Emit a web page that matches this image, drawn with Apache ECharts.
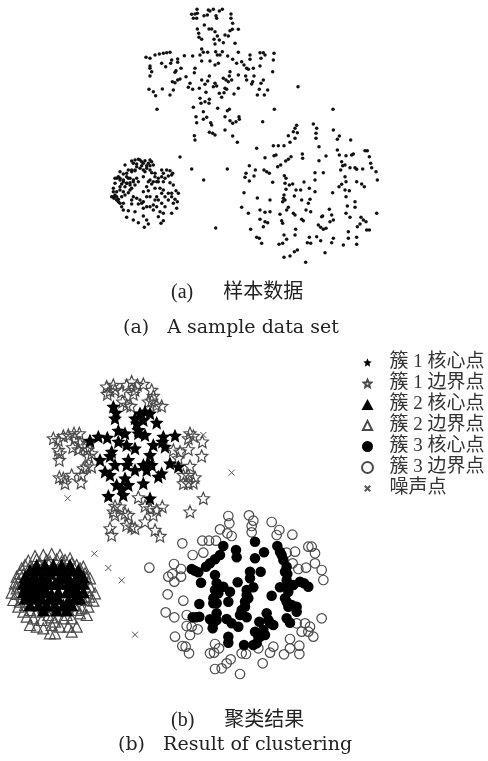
<!DOCTYPE html>
<html lang="en">
<head>
    <meta charset="UTF-8">
    <title>clustering</title>
    <style>
        html, body { margin: 0; padding: 0; background: #fff; }
        #main { width: 488px; height: 761px; filter: blur(0.6px); }
    </style>
</head>
<body>
<div id="main"></div>
<script src="https://cdn.jsdelivr.net/npm/echarts@6/dist/echarts.min.js"></script>
<script>
// (a) sample data
const sampleCross = [[291,28],[325,30],[340,28],[358,33],[367,28],[275,43],[285,42],[292,40],[290,55],[280,55],[312,47],[322,45],[330,33],[348,47],[350,55],[393,42],[393,55],[398,70],[313,75],[327,87],[335,87],[292,87],[296,100],[297,112],[305,118],[345,95],[352,108],[342,118],[345,132],[358,120],[375,105],[385,108],[390,92],[397,88],[415,88],[405,130],[370,128],[305,147],[310,157],[300,165],[323,157],[347,155],[352,165],[360,165],[367,155],[383,168],[415,157],[398,178],[450,165],[450,178],[480,158],[490,158],[495,165],[522,160],[483,175],[520,180],[138,172],[150,175],[165,165],[178,162],[190,160],[200,158],[210,157],[253,167],[278,168],[233,177],[233,187],[215,180],[212,190],[185,190],[197,200],[150,198],[150,205],[155,215],[150,228],[243,205],[228,212],[225,217],[305,183],[330,183],[345,195],[355,190],[285,205],[283,218],[258,230],[240,237],[233,240],[225,248],[217,245],[270,250],[265,262],[278,268],[298,265],[305,240],[328,228],[323,243],[315,253],[345,250],[350,258],[340,260],[390,215],[370,235],[378,240],[385,245],[395,240],[388,228],[410,190],[425,185],[432,195],[440,205],[445,208],[460,205],[480,198],[518,215],[415,225],[437,228],[440,240],[462,228],[458,245],[455,252],[490,240],[483,250],[375,265],[380,268],[372,278],[365,292],[358,280],[415,265],[402,282],[318,277],[147,268],[160,275],[167,287],[187,267],[210,285],[220,270],[478,268],[503,270],[472,285],[493,285],[300,295],[303,310],[315,305],[328,298],[327,310],[280,322],[310,335],[288,350],[320,352],[310,358],[290,368],[353,325],[388,328],[382,332],[375,350],[417,350],[418,358],[390,362],[398,370],[408,365],[332,368],[335,375],[375,390],[328,397],[338,400],[345,405],[283,407],[285,420],[398,408],[412,427]];
const sampleNoise = [[171,328],[523,328],[594,260],[699,328],[488,365],[240,471],[275,507],[382,507],[311,540],[347,684],[470,445]];
const sampleBlob = [[95,483],[105,480],[115,478],[125,485],[135,482],[145,490],[155,485],[160,495],[100,490],[110,492],[125,497],[140,497],[150,497],[75,495],[95,510],[105,510],[120,505],[135,515],[155,518],[165,520],[185,510],[200,510],[210,512],[218,520],[190,520],[205,528],[60,515],[70,522],[80,530],[50,535],[60,535],[70,540],[90,535],[100,540],[90,548],[80,550],[65,552],[45,550],[150,540],[160,545],[175,535],[155,552],[190,545],[210,548],[220,555],[130,530],[115,545],[105,555],[95,565],[40,565],[40,575],[35,590],[42,595],[50,600],[55,605],[70,575],[85,578],[100,590],[120,600],[130,605],[145,572],[130,575],[165,565],[180,565],[185,580],[170,590],[150,590],[140,590],[205,580],[228,572],[235,580],[215,590],[225,598],[232,605],[195,590],[185,610],[160,615],[150,620],[130,625],[115,612],[95,612],[65,620],[70,630],[85,632],[105,635],[160,630],[180,635],[195,620],[230,625],[215,640],[190,640],[175,650],[80,652],[100,660],[115,668],[130,648],[140,660],[145,672],[133,682],[183,670],[190,662],[45,535],[55,530],[60,540],[70,545],[80,550],[90,555],[100,545],[85,535],[110,535],[95,515],[85,510],[105,512],[80,520],[130,510],[140,505],[150,510],[165,530],[175,545],[145,545],[140,560],[170,545],[185,530],[215,525],[195,535],[40,590],[45,585],[50,590],[55,598],[65,590],[75,585],[60,610],[70,610],[95,600],[110,595],[125,610],[140,620],[170,620],[175,600],[205,600],[220,610],[215,580],[190,570],[165,600],[60,570],[50,575],[75,560],[90,570],[60,560],[120,480],[130,490],[110,500],[150,480]];
const sampleScatter = [[590,376],[585,385],[580,395],[592,398],[565,407],[585,415],[570,427],[552,437],[535,437],[520,437],[640,372],[650,385],[648,400],[648,415],[657,440],[700,390],[718,408],[712,418],[752,420],[795,452],[802,452],[712,450],[718,465],[738,467],[755,465],[760,462],[808,470],[522,467],[528,465],[495,473],[573,470],[565,478],[557,483],[607,462],[608,475],[657,482],[678,468],[542,495],[533,500],[448,497],[466,510],[492,510],[500,515],[508,520],[438,520],[435,532],[462,528],[448,543],[553,527],[558,535],[645,518],[670,518],[725,485],[728,497],[735,495],[722,510],[750,503],[765,503],[770,508],[788,507],[812,490],[815,503],[828,515],[832,540],[645,540],[612,546],[518,547],[555,550],[558,568],[578,552],[568,555],[588,570],[602,570],[628,565],[645,575],[735,530],[738,545],[725,553],[717,560],[770,545],[785,552],[793,560],[735,570],[748,572],[698,578],[432,578],[472,594],[510,600],[552,585],[550,595],[555,600],[548,605],[583,588],[605,600],[630,598],[625,610],[738,590],[765,605],[742,618],[765,622],[425,622],[445,640],[480,630],[495,637],[510,635],[560,630],[565,622],[540,643],[580,640],[585,645],[618,630],[632,635],[688,628],[695,645],[738,640],[750,652],[665,650],[668,648],[690,665],[700,660],[783,652],[790,660],[798,665],[780,672],[772,680],[830,640],[480,658],[495,665],[503,668],[545,662],[548,670],[490,680],[452,688],[605,658],[610,662],[655,675],[662,682],[670,688],[678,685],[587,688],[800,690],[808,690],[745,695],[470,712],[478,715],[485,730],[552,705],[560,718],[537,733],[548,730],[585,705],[628,712],[622,728],[632,730],[650,710],[662,722],[700,715],[695,728],[745,715],[770,712],[730,735],[770,733],[592,750],[583,755],[570,768],[552,772],[675,758],[617,787]];

// (b) clustering result
const cluster1Core = [[340,110],[348,128],[345,145],[405,145],[420,130],[435,125],[450,130],[410,160],[415,180],[430,150],[470,158],[355,182],[375,190],[415,190],[435,195],[270,212],[295,200],[322,203],[355,215],[380,225],[405,235],[490,200],[487,215],[495,230],[525,197],[460,225],[335,245],[300,270],[330,258],[450,255],[385,270],[345,285],[380,285],[315,305],[330,315],[405,300],[375,325],[430,285],[445,280],[440,300],[430,340],[475,320],[485,310],[510,280],[535,290],[350,345],[365,355],[385,345],[370,375],[325,378],[450,385],[455,285]];
const cluster1Border = [[320,50],[340,45],[330,62],[322,72],[345,60],[365,65],[380,45],[395,35],[412,45],[430,42],[405,60],[400,72],[455,60],[460,78],[455,92],[485,108],[470,105],[445,95],[380,105],[392,108],[368,95],[160,205],[175,210],[190,198],[205,195],[222,190],[238,190],[225,205],[240,220],[218,232],[235,238],[250,230],[262,240],[270,215],[175,240],[180,250],[178,270],[265,258],[275,250],[178,322],[190,325],[195,340],[215,315],[245,315],[243,338],[260,290],[250,295],[275,290],[570,190],[565,205],[580,198],[607,215],[605,258],[520,240],[540,245],[535,265],[565,238],[570,288],[565,315],[585,322],[550,340],[565,340],[580,338],[550,315],[415,382],[345,408],[360,410],[340,425],[345,435],[375,430],[385,435],[435,408],[450,415],[470,420],[487,410],[460,435],[435,455],[380,465],[395,470],[405,475],[330,475],[335,495],[465,480],[480,498],[610,385],[570,425]];
const cluster2Core = [[110,585],[135,585],[160,585],[185,585],[210,585],[90,600],[115,600],[140,600],[165,600],[190,600],[215,600],[235,600],[75,620],[100,620],[125,620],[180,620],[205,620],[230,620],[250,620],[70,640],[95,640],[120,640],[180,640],[235,640],[250,640],[70,665],[95,665],[120,665],[175,665],[230,665],[250,665],[75,685],[100,685],[125,685],[150,685],[225,685],[240,685],[90,705],[115,705],[140,705],[165,705],[190,705],[215,705],[130,720],[170,720],[200,720],[150,610],[145,635],[165,640],[130,650],[150,640],[205,640],[200,665],[215,660],[155,672],[175,685],[205,690],[85,650],[110,650],[85,630],[110,630],[85,675],[110,675],[225,630],[225,650],[195,625],[140,665]];
const cluster2Border = [[105,558],[130,555],[155,552],[180,555],[85,572],[110,568],[140,570],[170,568],[195,570],[65,595],[90,590],[230,585],[250,590],[215,580],[50,620],[70,612],[255,610],[270,625],[240,605],[45,640],[60,650],[35,668],[50,672],[270,650],[285,670],[40,690],[60,695],[75,705],[280,692],[260,690],[245,680],[265,710],[245,715],[70,725],[90,720],[110,725],[130,712],[155,720],[175,710],[205,720],[225,705],[240,730],[80,740],[100,745],[125,750],[155,742],[165,755],[190,745],[215,745],[260,735],[90,765],[110,770],[130,775],[155,765],[180,770],[205,770],[230,770],[150,790],[165,790],[215,785],[75,585],[60,610],[55,635],[50,655],[260,625],[262,660],[268,680],[55,710],[120,580],[150,575],[185,575],[210,565],[240,595],[145,735],[200,735],[230,720]];
const cluster3Core = [[670,528],[708,540],[710,562],[765,515],[792,547],[765,565],[832,528],[840,545],[850,570],[860,590],[660,555],[645,568],[630,580],[618,590],[575,597],[595,607],[603,638],[645,615],[650,640],[670,650],[645,660],[640,685],[650,700],[690,665],[685,695],[713,637],[740,660],[760,652],[745,685],[735,710],[720,735],[740,742],[750,605],[782,605],[750,625],[598,702],[578,742],[598,740],[630,748],[638,775],[650,730],[680,747],[695,760],[715,770],[685,800],[685,818],[732,825],[760,825],[765,785],[780,800],[795,795],[778,755],[800,730],[805,750],[820,765],[860,745],[870,758],[815,677],[840,652],[860,630],[860,650],[855,685],[865,710],[890,710],[890,725],[900,635],[925,650],[912,640],[880,645],[845,555],[855,605],[862,612],[865,665],[860,695],[875,705],[585,602],[655,670],[660,650],[640,700],[740,675],[735,695],[725,720],[775,800],[770,820],[790,780],[810,760],[650,750],[640,760],[588,742]];
const cluster3Border = [[448,593],[547,520],[578,555],[610,548],[607,512],[627,512],[648,512],[660,478],[685,438],[688,460],[682,490],[695,498],[747,436],[760,452],[755,468],[755,487],[815,456],[838,480],[830,495],[877,494],[522,582],[543,597],[517,612],[505,620],[523,635],[543,620],[503,673],[550,692],[497,727],[523,742],[560,735],[560,768],[575,770],[593,778],[525,800],[570,795],[547,828],[557,830],[567,850],[645,822],[657,835],[630,850],[642,848],[645,897],[665,895],[680,880],[692,868],[720,912],[788,880],[725,850],[738,852],[775,835],[810,848],[820,830],[852,853],[870,807],[870,835],[898,852],[898,827],[905,785],[915,760],[930,770],[925,785],[940,800],[965,745],[860,548],[885,545],[878,580],[895,597],[918,593],[925,530],[935,530],[945,550],[945,580],[965,600],[970,630],[890,760]];
const noisePoints = [[610,195],[695,308],[203,385],[283,551],[325,594],[365,631],[405,794]];

const legendNames = ['簇 1 核心点', '簇 1 边界点', '簇 2 核心点', '簇 2 边界点', '簇 3 核心点', '簇 3 边界点', '噪声点'];

const STAR = 'path://M10,0L12.9,6.9L20,7.6L14.6,12.4L16.2,20L10,16L3.8,20L5.4,12.4L0,7.6L7.1,6.9Z';
const CROSS = 'path://M0,0L10,10M10,0L0,10';
const HOLLOW_TRI = 'path://M5,0L10,10L0,10ZM-1,-1L-1,-1M11,11L11,11';
const SERIF = '"Liberation Serif","Noto Sans CJK SC",serif';
const LATIN = '"DejaVu Serif",serif';

function solid(name, data, symbol, size) {
    return {
        name, data, symbol, symbolSize: size, type: 'scatter', xAxisIndex: 1, yAxisIndex: 1, silent: true,
        itemStyle: { color: '#000', opacity: 1 }
    };
}
function hollow(name, data, symbol, size) {
    return {
        name, data, symbol, symbolSize: size, type: 'scatter', xAxisIndex: 1, yAxisIndex: 1, silent: true,
        itemStyle: { color: 'rgba(0,0,0,0)', borderColor: '#4a4a4a', borderWidth: 1.2, opacity: 1 }
    };
}
function caption(text, left, top, size, family) {
    return { text, left, top, padding: 0, textStyle: { fontFamily: family, fontSize: size, fontWeight: 'normal', color: '#222' } };
}

const myChart = echarts.init(document.getElementById('main'));
myChart.setOption({
    animation: false,
    backgroundColor: '#fff',
    title: [
        caption('(a)      样本数据', 171, 283, 20, SERIF),
        caption('(a)   A sample data set', 123, 319, 19, LATIN),
        caption('(b)      聚类结果', 171, 711, 20, SERIF),
        caption('(b)   Result of clustering', 118, 736, 19, LATIN)
    ],
    grid: [
        { left: 100, top: 0, width: 290, height: 270 },
        { left: 0, top: 370, width: 340, height: 330 }
    ],
    xAxis: [
        { type: 'value', min: 0, max: 870, show: false, gridIndex: 0 },
        { type: 'value', min: 0, max: 1020, show: false, gridIndex: 1 }
    ],
    yAxis: [
        { type: 'value', min: 0, max: 810, inverse: true, show: false, gridIndex: 0 },
        { type: 'value', min: 0, max: 990, inverse: true, show: false, gridIndex: 1 }
    ],
    legend: {
        data: legendNames.map((name, i) => {
            if (i === 1) return { name, icon: STAR + 'M-5,-5L-5,-5M25,25L25,25' };
            if (i === 0) return { name, icon: STAR + 'M-3,-3L-3,-3M23,23L23,23' };
            if (i === 3) return { name, icon: HOLLOW_TRI };
            if (i === 6) return { name, icon: CROSS + 'M-5,-5L-5,-5M15,15L15,15' };
            return { name };
        }),
        orient: 'vertical', left: 356, top: 347, itemWidth: 12, itemHeight: 11, itemGap: 0,
        selectedMode: false,
        textStyle: { fontFamily: SERIF, fontSize: 19, color: '#333', lineHeight: 21, padding: [0, 0, 0, 11] }
    },
    series: [
        hollow('簇 1 边界点', cluster1Border, STAR, 12),
        solid('簇 1 核心点', cluster1Core, STAR, 14),
        hollow('簇 2 边界点', cluster2Border, 'triangle', 11),
        solid('簇 2 核心点', cluster2Core, 'triangle', 13),
        hollow('簇 3 边界点', cluster3Border, 'circle', 9.5),
        solid('簇 3 核心点', cluster3Core, 'circle', 10.5),
        {
            name: '噪声点', data: noisePoints, symbol: CROSS, symbolSize: 6, type: 'scatter', xAxisIndex: 1, yAxisIndex: 1, silent: true,
            itemStyle: { color: 'rgba(0,0,0,0)', borderColor: '#555', borderWidth: 1, opacity: 1 }
        },
        {
            type: 'scatter', xAxisIndex: 0, yAxisIndex: 0, symbolSize: 3.5, silent: true,
            data: sampleCross.concat(sampleNoise, sampleBlob, sampleScatter),
            itemStyle: { color: '#111', opacity: 1 }
        }
    ]
});
</script>
</body>
</html>
